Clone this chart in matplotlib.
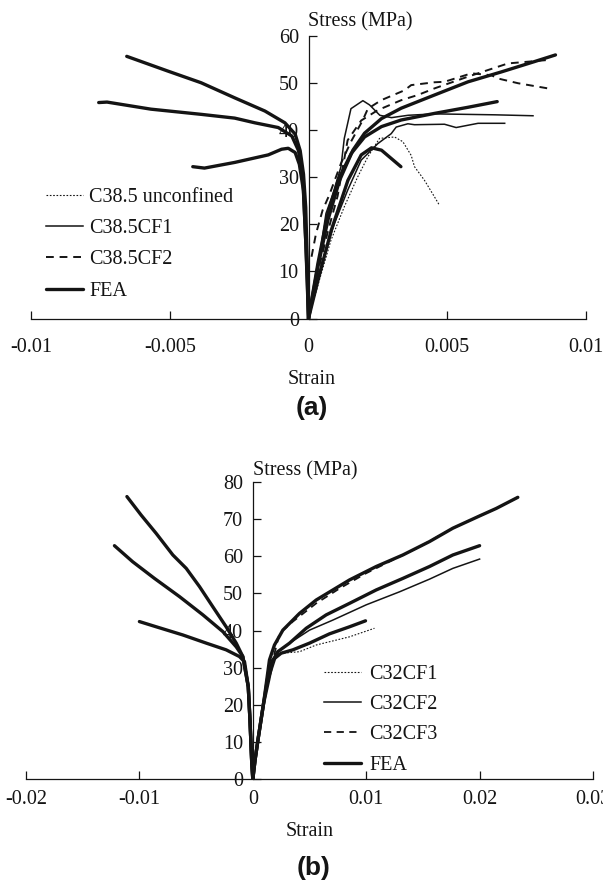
import matplotlib
matplotlib.use('Agg')
import matplotlib.pyplot as plt

plt.rcParams['font.family'] = ['Liberation Serif', 'DejaVu Serif']
INK = '#141414'

# ---------------- panel (a): C38.5 specimens ----------------
# experimental curves (axial strain)
a_unconf_x = [0, 0.00039, 0.00081, 0.00129, 0.00177, 0.00214, 0.00256, 0.0031, 0.0034, 0.0037, 0.00382, 0.00418, 0.00454, 0.00472]
a_unconf_y = [0, 8.1, 16.6, 23.7, 30.0, 34.3, 38.2, 38.5, 37.5, 34.6, 32.2, 29.3, 25.8, 24.0]

a_cf1a_x = [0, 0.00039, 0.00063, 0.00093, 0.00117, 0.00129, 0.00153, 0.00196, 0.0022, 0.00257, 0.00299, 0.00359, 0.00454, 0.00671, 0.00809]
a_cf1a_y = [0, 13.0, 22.3, 27.2, 32.2, 38.2, 44.5, 46.2, 45.3, 43.1, 42.6, 43.1, 43.4, 43.2, 43.0]
a_cf1b_x = [0, 0.00045, 0.00093, 0.00141, 0.0019, 0.0025, 0.00298, 0.00316, 0.00358, 0.00382, 0.0049, 0.00532, 0.00611, 0.00707]
a_cf1b_y = [0, 11.0, 20.1, 27.2, 33.6, 37.1, 39.2, 40.6, 41.3, 41.1, 41.2, 40.5, 41.4, 41.4]

a_cf2a_x = [0.00011, 0.00027, 0.00051, 0.00075, 0.00117, 0.00153, 0.00195, 0.00214, 0.00262, 0.00346, 0.0037, 0.00454, 0.0049, 0.00587, 0.00659, 0.00683, 0.00755, 0.00863]
a_cf2a_y = [13.1, 18.0, 23.0, 26.2, 32.9, 37.5, 42.0, 44.5, 46.3, 48.4, 49.5, 50.1, 50.2, 52.0, 51.6, 50.9, 49.9, 48.8]
a_cf2b_x = [0, 0.0003, 0.0007, 0.00105, 0.00141, 0.0019, 0.0025, 0.00334, 0.00394, 0.00454, 0.00575, 0.00719, 0.00857, 0.00863]
a_cf2b_y = [0, 9.0, 18.5, 26.0, 37.8, 42.0, 44.2, 46.3, 47.4, 48.8, 51.3, 54.1, 54.8, 53.8]

# FEA: lateral (negative) and axial (positive) branches
a_fea1_lat_x = [-0.00655, -0.00508, -0.00387, -0.00266, -0.00157, -0.00085, -0.00048, -0.0003, -0.00018, -0.0001, -0.00005, 0]
a_fea1_lat_y = [55.6, 52.5, 50.0, 46.8, 44.0, 41.5, 39.1, 35.6, 30.6, 23.6, 13.0, 0]
a_fea1_ax_x = [0, 0.00034, 0.0007, 0.00112, 0.0016, 0.00202, 0.00263, 0.00334, 0.00454, 0.00575, 0.00695, 0.00815, 0.0089]
a_fea1_ax_y = [0, 11.0, 20.9, 29.3, 35.7, 39.3, 42.4, 44.6, 47.4, 50.2, 52.3, 54.5, 55.9]

a_fea2_lat_x = [-0.00756, -0.00726, -0.00568, -0.00387, -0.00266, -0.00193, -0.00109, -0.0006, -0.00036, -0.0002, -0.0001, 0]
a_fea2_lat_y = [45.8, 45.9, 44.4, 43.3, 42.5, 41.5, 40.5, 38.7, 35.6, 29.2, 16.5, 0]
a_fea2_ax_x = [0, 0.00034, 0.0007, 0.00106, 0.00154, 0.00202, 0.00263, 0.00334, 0.00454, 0.00575, 0.0068]
a_fea2_ax_y = [0, 11.7, 22.3, 29.3, 35.0, 38.5, 40.7, 42.1, 43.5, 44.8, 46.0]

a_fea3_lat_x = [-0.00417, -0.00375, -0.00266, -0.00145, -0.00097, -0.00073, -0.00048, -0.00033, -0.00018, -0.0001, -0.00005, 0]
a_fea3_lat_y = [32.2, 31.9, 33.1, 34.7, 35.9, 36.1, 35.2, 32.7, 27.1, 16.5, 9.5, 0]
a_fea3_ax_x = [0, 0.00034, 0.00082, 0.00142, 0.0019, 0.00227, 0.00263, 0.00299, 0.00333]
a_fea3_ax_y = [0, 8.1, 18.7, 29.3, 34.7, 36.2, 35.7, 33.9, 32.2]

a_xticks = [-0.01, -0.005, 0, 0.005, 0.01]
a_xlabels = ['-0.01', '-0.005', '0', '0.005', '0.01']
a_yticks = [0, 10, 20, 30, 40, 50, 60]
a_labels = ['C38.5 unconfined', 'C38.5CF1', 'C38.5CF2', 'FEA']

# ---------------- panel (b): C32 specimens ----------------
b_cf1_x = [0, 0.0002, 0.0005, 0.00095, 0.0014, 0.002, 0.00265, 0.00412, 0.00559, 0.00853, 0.01073]
b_cf1_y = [0, 5.2, 11.5, 20.4, 26.7, 33.9, 33.9, 34.3, 36.1, 38.3, 40.6]
b_cf2_x = [0, 0.0002, 0.0005, 0.00095, 0.0014, 0.0022, 0.00324, 0.005, 0.00706, 0.01, 0.01294, 0.01558, 0.01764, 0.02]
b_cf2_y = [0, 5.2, 11.5, 20.4, 26.7, 34.3, 36.6, 40.1, 42.8, 46.9, 50.4, 53.8, 56.7, 59.2]
b_cf3_x = [0, 0.0002, 0.0005, 0.00095, 0.0014, 0.00235, 0.00353, 0.00559, 0.00765, 0.01, 0.01323, 0.0147, 0.01764, 0.02, 0.02146, 0.02337]
b_cf3_y = [0, 5.2, 11.5, 20.4, 27.5, 39.2, 42.4, 47.3, 51.3, 55.4, 60.3, 62.5, 67.5, 70.8, 72.8, 75.8]

b_fea1_lat_x = [-0.0111, -0.00984, -0.00852, -0.00705, -0.00587, -0.0047, -0.00353, -0.00235, -0.00146, -0.00088, -0.0004, -0.00025, -0.0001, 0]
b_fea1_lat_y = [76.0, 71.0, 66.1, 60.3, 56.7, 51.8, 46.4, 41.0, 36.6, 33.0, 24.9, 16.0, 5.0, 0]
b_fea1_ax_x = [0, 0.0002, 0.0005, 0.00095, 0.00147, 0.00191, 0.00265, 0.00412, 0.00559, 0.00853, 0.01088, 0.01323, 0.01558, 0.01764, 0.02, 0.02146, 0.02337]
b_fea1_ax_y = [0, 5.2, 11.5, 20.4, 32.1, 36.1, 40.1, 44.6, 48.2, 53.6, 57.2, 60.3, 63.9, 67.5, 70.8, 72.8, 75.8]

b_fea2_lat_x = [-0.0122, -0.0106, -0.00867, -0.00646, -0.0044, -0.00264, -0.00146, -0.00088, -0.0004, -0.00025, -0.0001, 0]
b_fea2_lat_y = [62.8, 58.5, 54.0, 49.1, 44.2, 39.7, 35.6, 33.0, 24.9, 16.0, 5.0, 0]
b_fea2_ax_x = [0, 0.0002, 0.0005, 0.00095, 0.00147, 0.0022, 0.00324, 0.00471, 0.00647, 0.00853, 0.01088, 0.01323, 0.01558, 0.01764, 0.02]
b_fea2_ax_y = [0, 5.2, 11.5, 20.4, 30.3, 34.3, 36.6, 40.6, 44.2, 47.3, 50.9, 54.0, 57.2, 60.3, 62.8]

b_fea3_lat_x = [-0.01, -0.00852, -0.00617, -0.0041, -0.00235, -0.00118, -0.00073, -0.0004, -0.00025, -0.0001, 0]
b_fea3_lat_y = [42.4, 41.0, 38.8, 36.6, 34.8, 33.0, 31.6, 24.9, 16.0, 5.0, 0]
b_fea3_ax_x = [0, 0.0002, 0.0005, 0.00095, 0.0014, 0.00176, 0.0025, 0.00353, 0.005, 0.00676, 0.00853, 0.00994]
b_fea3_ax_y = [0, 5.2, 11.5, 20.4, 26.7, 32.1, 33.9, 34.8, 36.6, 39.1, 41.0, 42.6]

b_xticks = [-0.02, -0.01, 0, 0.01, 0.02, 0.03]
b_xlabels = ['-0.02', '-0.01', '0', '0.01', '0.02', '0.03']
b_yticks = [0, 10, 20, 30, 40, 50, 60, 70, 80]
b_labels = ['C32CF1', 'C32CF2', 'C32CF3', 'FEA']

W, H = 603, 884
fig = plt.figure(figsize=(W / 100, H / 100), dpi=100)


def px_box(x0, x1, ytop, ybot):
    return [x0 / W, 1 - ybot / H, (x1 - x0) / W, (ybot - ytop) / H]


def style_axes(ax, xticks, xlabels, yticks, xlim, ylim, xpad):
    ax.set_xlim(*xlim)
    ax.set_ylim(*ylim)
    for s in ['top', 'right']:
        ax.spines[s].set_visible(False)
    ax.spines['left'].set_position(('data', 0))
    ax.spines['left'].set_color(INK)
    ax.spines['bottom'].set_color(INK)
    ax.spines['left'].set_linewidth(0.9)
    ax.spines['bottom'].set_linewidth(0.9)
    ax.set_xticks(xticks)
    ax.set_xticklabels(xlabels)
    ax.set_yticks(yticks)
    ax.tick_params(axis='x', direction='in', length=6, width=0.9, pad=xpad, labelsize=14.5, colors=INK)
    ax.tick_params(axis='y', direction='in', length=5.5, width=0.9, pad=7, labelsize=14.5, colors=INK)
    ax.patch.set_alpha(0)


fea_kw = dict(color=INK, lw=2.4, solid_capstyle='round', solid_joinstyle='round')

# ---- (a) ----
ax1 = fig.add_axes(px_box(31, 586, 35.6, 318.5))
style_axes(ax1, a_xticks, a_xlabels, a_yticks, (-0.01, 0.01), (0, 60), 14)
h_unc, = ax1.plot(a_unconf_x, a_unconf_y, color=INK, lw=0.8, ls=(0, (1.5, 1.5)))
h_cf1, = ax1.plot(a_cf1a_x, a_cf1a_y, color=INK, lw=1.1)
ax1.plot(a_cf1b_x, a_cf1b_y, color=INK, lw=1.1)
h_cf2, = ax1.plot(a_cf2a_x, a_cf2a_y, color=INK, lw=1.4, ls=(0, (4, 3)))
ax1.plot(a_cf2b_x, a_cf2b_y, color=INK, lw=1.4, ls=(0, (4, 3)))
for xs, ys in [(a_fea1_lat_x, a_fea1_lat_y), (a_fea1_ax_x, a_fea1_ax_y),
               (a_fea2_lat_x, a_fea2_lat_y), (a_fea2_ax_x, a_fea2_ax_y),
               (a_fea3_lat_x, a_fea3_lat_y), (a_fea3_ax_x, a_fea3_ax_y)]:
    h_fea, = ax1.plot(xs, ys, **fea_kw)
ax1.legend([h_unc, h_cf1, h_cf2, h_fea], a_labels, loc='upper left',
           bbox_to_anchor=(46 / W, 1 - 188 / H), bbox_transform=fig.transFigure,
           frameon=False, fontsize=14.5, handlelength=1.85, handletextpad=0.3,
           labelspacing=0.6, borderpad=0, borderaxespad=0, labelcolor=INK)
ax1.text(0, 63.0, 'Stress (MPa)', ha='left', va='center', fontsize=14.5, color=INK, clip_on=False)
fig.text(312 / W, 1 - 379 / H, 'Strain', ha='center', va='center', fontsize=14.5, color=INK)
fig.text(312 / W, 1 - 408 / H, '(a)', ha='center', va='center', fontsize=19,
         fontweight='bold', family='Liberation Sans', color=INK)

# ---- (b) ----
ax2 = fig.add_axes(px_box(26, 593, 481.7, 779.3))
style_axes(ax2, b_xticks, b_xlabels, b_yticks, (-0.02, 0.03), (0, 80), 8)
h1, = ax2.plot(b_cf1_x, b_cf1_y, color=INK, lw=0.8, ls=(0, (1.5, 1.5)))
h2, = ax2.plot(b_cf2_x, b_cf2_y, color=INK, lw=1.1)
h3, = ax2.plot(b_cf3_x, b_cf3_y, color=INK, lw=1.3, ls=(0, (4, 3)))
for xs, ys in [(b_fea1_lat_x, b_fea1_lat_y), (b_fea1_ax_x, b_fea1_ax_y),
               (b_fea2_lat_x, b_fea2_lat_y), (b_fea2_ax_x, b_fea2_ax_y),
               (b_fea3_lat_x, b_fea3_lat_y), (b_fea3_ax_x, b_fea3_ax_y)]:
    h4, = ax2.plot(xs, ys, **fea_kw)
ax2.legend([h1, h2, h3, h4], b_labels, loc='upper left',
           bbox_to_anchor=(324 / W, 1 - 665 / H), bbox_transform=fig.transFigure,
           frameon=False, fontsize=14.5, handlelength=1.85, handletextpad=0.4,
           labelspacing=0.55, borderpad=0, borderaxespad=0, labelcolor=INK)
ax2.text(0, 83.0, 'Stress (MPa)', ha='left', va='center', fontsize=14.5, color=INK, clip_on=False)
fig.text(310 / W, 1 - 832 / H, 'Strain', ha='center', va='center', fontsize=14.5, color=INK)
fig.text(314 / W, 1 - 868 / H, '(b)', ha='center', va='center', fontsize=19,
         fontweight='bold', family='Liberation Sans', color=INK)

fig.savefig('out.png', dpi=100, facecolor='white')
